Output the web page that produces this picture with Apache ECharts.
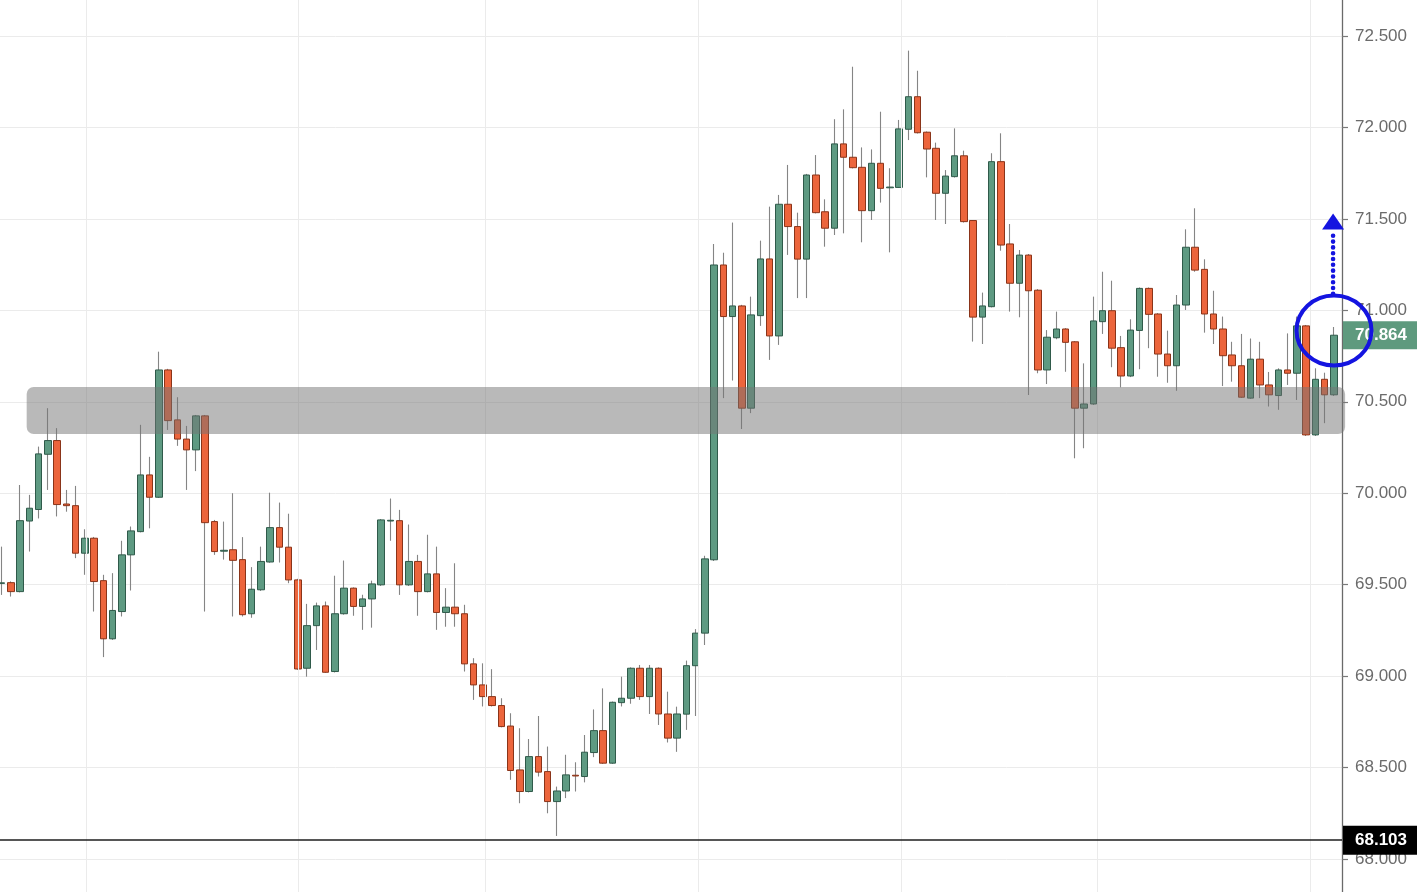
<!DOCTYPE html>
<html>
<head>
<meta charset="utf-8">
<script src="https://cdn.jsdelivr.net/npm/echarts@6/dist/echarts.min.js"></script>
<style>
html,body{margin:0;padding:0;background:#fff;}
#c{width:1417px;height:892px;}
</style>
</head>
<body>
<div id="c"></div>
<script>
// ---- data ----
const opens = [69.507,69.511,69.462,69.848,69.911,70.213,70.288,69.941,69.932,69.672,
69.754,69.522,69.204,69.353,69.663,69.790,70.100,69.978,70.674,70.401,
70.296,70.237,70.423,69.845,69.683,69.691,69.637,69.341,69.472,69.624,
69.812,69.705,69.526,69.043,69.276,69.384,69.025,69.341,69.481,69.381,
69.422,69.499,69.848,69.850,69.499,69.627,69.462,69.559,69.348,69.377,
69.341,69.067,68.952,68.888,68.839,68.727,68.487,68.369,68.560,68.478,
68.314,68.372,68.458,68.451,68.582,68.702,68.524,68.855,68.879,69.043,
68.888,69.043,68.793,68.661,68.792,69.057,69.235,69.636,71.248,70.966,
71.024,70.465,70.971,71.281,70.860,71.580,71.458,71.280,71.740,71.539,
71.449,71.910,71.837,71.782,71.545,71.804,71.670,71.672,71.990,72.168,
71.974,71.886,71.640,71.731,71.845,71.491,70.963,71.020,71.813,71.363,
71.148,71.302,71.110,70.674,70.850,70.898,70.828,70.465,70.488,70.938,
70.998,70.796,70.641,70.890,71.120,70.980,70.761,70.697,71.029,71.345,
71.224,70.980,70.898,70.756,70.697,70.520,70.733,70.592,70.534,70.674,
70.656,70.915,70.319,70.623,70.538];
const closes = [69.510,69.462,69.850,69.918,70.215,70.288,69.938,69.932,69.672,69.754,
69.517,69.204,69.359,69.663,69.794,70.100,69.978,70.674,70.397,70.296,
70.237,70.423,69.839,69.681,69.688,69.633,69.336,69.475,69.627,69.812,
69.705,69.526,69.039,69.276,69.384,69.021,69.341,69.481,69.381,69.422,
69.504,69.854,69.852,69.499,69.627,69.462,69.559,69.348,69.377,69.341,
69.067,68.952,68.888,68.839,68.724,68.484,68.369,68.560,68.475,68.314,
68.372,68.460,68.454,68.584,68.702,68.524,68.857,68.879,69.043,68.888,
69.043,68.793,68.661,68.793,69.057,69.235,69.641,71.248,70.966,71.024,
70.465,70.975,71.281,70.860,71.580,71.458,71.280,71.740,71.534,71.449,
71.910,71.837,71.780,71.545,71.804,71.667,71.674,71.992,72.168,71.971,
71.882,71.640,71.734,71.845,71.485,70.963,71.024,71.813,71.357,71.148,
71.302,71.107,70.674,70.853,70.898,70.825,70.465,70.488,70.942,70.998,
70.793,70.641,70.892,71.120,70.978,70.761,70.697,71.029,71.345,71.220,
70.980,70.898,70.752,70.697,70.525,70.733,70.592,70.538,70.674,70.656,
70.915,70.319,70.623,70.538,70.864];
const lows = [69.444,69.435,69.458,69.681,69.862,70.018,69.873,69.899,69.645,69.554,
69.353,69.104,69.198,69.326,69.468,69.786,69.808,69.974,70.346,70.259,
70.018,70.121,69.353,69.663,69.637,69.326,69.326,69.319,69.466,69.620,
69.621,69.508,69.034,68.997,69.143,69.018,69.020,69.336,69.330,69.253,
69.265,69.493,69.740,69.444,69.493,69.330,69.458,69.253,69.270,69.270,
69.025,68.870,68.834,68.834,68.720,68.433,68.305,68.364,68.451,68.250,
68.126,68.333,68.369,68.419,68.557,68.520,68.520,68.834,68.849,68.870,
68.793,68.733,68.637,68.586,68.706,68.782,69.170,69.630,70.520,70.616,
70.351,70.438,70.915,70.729,70.811,71.303,71.067,71.067,71.530,71.348,
71.412,71.421,71.776,71.372,71.494,71.589,71.317,71.669,71.931,71.967,
71.727,71.494,71.472,71.726,71.480,70.829,70.816,71.016,71.326,70.993,
70.962,70.537,70.656,70.597,70.842,70.664,70.191,70.246,70.483,70.871,
70.689,70.579,70.635,70.678,70.793,70.637,70.604,70.560,71.002,71.211,
70.878,70.816,70.586,70.610,70.521,70.516,70.520,70.474,70.456,70.592,
70.510,70.313,70.313,70.383,70.532];
const highs = [69.708,69.518,70.045,69.991,70.255,70.465,70.356,70.018,70.040,69.803,
69.761,69.554,69.563,69.740,69.818,70.374,70.199,70.774,70.680,70.525,
70.368,70.428,70.428,69.854,69.845,70.000,69.760,69.596,69.708,70.003,
69.949,69.888,69.532,69.395,69.402,69.408,69.549,69.632,69.485,69.445,
69.522,69.859,69.971,69.909,69.829,69.663,69.773,69.708,69.481,69.617,
69.390,69.098,69.070,69.038,68.879,68.797,68.715,68.656,68.782,68.615,
68.396,68.570,68.529,68.678,68.818,68.933,68.861,68.997,69.048,69.061,
69.061,69.048,68.915,68.833,69.085,69.257,69.658,71.363,71.315,71.480,
71.030,71.075,71.381,71.567,71.631,71.795,71.534,71.746,71.849,71.607,
72.045,72.099,72.332,71.891,71.880,72.086,71.777,72.041,72.420,72.310,
71.978,71.917,71.767,71.995,71.873,71.494,71.097,71.859,71.968,71.472,
71.330,71.308,71.116,70.892,70.993,70.903,70.832,70.710,71.075,71.211,
71.162,70.860,70.951,71.125,71.125,70.985,70.889,71.084,71.443,71.558,
71.279,71.107,70.966,70.828,70.871,70.846,70.828,70.663,70.683,70.874,
70.966,70.920,70.683,70.659,70.909];

const yTicksMin = 67.5, yTicksMax = 73.0, yTickStep = 0.5;
const timeGridIdx = [9.1, 32.06, 52.25, 75.24, 97.2, 118.4, 141.4];
const lastPrice = 70.864;
const levelLine = 68.103;
const zoneBand = [70.324, 70.581];
const zoneSpan = [2.7, 145.2];
const circleAt = [144, 70.89];
const arrowSpan = [71.09, 71.53];
const arrowIdx = 143.9;

// ---- build ----
const full = opens.map((o, i) => [i, o, closes[i], lows[i], highs[i]]);
const bodies = opens.map((o, i) => [i, o, closes[i], Math.min(o, closes[i]), Math.max(o, closes[i])]);

const chart = echarts.init(document.getElementById('c'), null, {renderer: 'canvas'});
const FONT = 'Liberation Sans, Arial, sans-serif';

const option = {
  animation: false,
  backgroundColor: '#ffffff',
  grid: {left: 0, right: 75, top: -55.45, bottom: -58.45, containLabel: false, outerBoundsMode: 'none'},
  xAxis: {
    type: 'value', min: -0.184, max: 144.865,
    axisLine: {show: false, onZero: false}, axisTick: {show: false}, axisLabel: {show: false}, splitLine: {show: false}
  },
  yAxis: {
    type: 'value', position: 'right', scale: true,
    min: yTicksMin, max: yTicksMax, interval: yTickStep,
    axisLine: {show: true, onZero: false, lineStyle: {color: '#6a6a6a', width: 1.3}},
    axisTick: {show: true, length: 6, lineStyle: {color: '#7a7a7a', width: 1.2}},
    axisLabel: {
      color: '#6b6b6b', fontSize: 17, fontFamily: FONT, margin: 13,
      formatter: v => v.toFixed(3)
    },
    splitLine: {show: true, lineStyle: {color: '#ebebeb', width: 1}}
  },
  series: [
    {
      type: 'scatter', data: [], z: 1, silent: true,
      markLine: {
        silent: true, symbol: ['none', 'none'], label: {show: false},
        lineStyle: {color: '#ebebeb', width: 1, type: 'solid'},
        data: timeGridIdx.map(v => ({xAxis: v}))
      }
    },
    {
      type: 'candlestick', name: 'wicks', z: 2, barWidth: 1, silent: true,
      itemStyle: {color: '#858585', color0: '#858585', borderColor: '#858585', borderColor0: '#858585', borderWidth: 1.1},
      data: full
    },
    {
      type: 'candlestick', name: 'bodies', z: 3, barWidth: 7, silent: true,
      itemStyle: {color: '#5e9a82', color0: '#ec653c', borderColor: '#2f5a4a', borderColor0: '#8a3419', borderWidth: 1},
      data: bodies,
      markLine: {
        silent: true, symbol: ['none', 'none'], precision: 3,
        data: [
          {
            yAxis: levelLine,
            lineStyle: {color: '#1e1e1e', width: 1.5, type: 'solid'},
            label: {
              show: true, position: 'end', distance: 1,
              formatter: p => p.value.toFixed(3),
              color: '#ffffff', fontWeight: 'bold', fontSize: 17, fontFamily: FONT,
              backgroundColor: '#000000', padding: [7, 12, 5, 12]
            }
          },
          {
            yAxis: lastPrice,
            lineStyle: {color: 'rgba(0,0,0,0)', width: 1, type: 'solid'},
            label: {
              show: true, position: 'end', distance: 1,
              formatter: p => p.value.toFixed(3),
              color: '#ffffff', fontWeight: 600, fontSize: 17, fontFamily: FONT,
              backgroundColor: '#5e9a7e', padding: [6, 12, 5, 12]
            }
          }
        ]
      }
    }
  ]
};
chart.setOption(option);

function px(x, y) { return chart.convertToPixel({gridIndex: 0}, [x, y]); }
const z0 = px(zoneSpan[0], zoneBand[1]);
const z1 = px(zoneSpan[1], zoneBand[0]);
const cc = px(circleAt[0], circleAt[1]);
const aBot = px(arrowIdx, arrowSpan[0]);
const aTop = px(arrowIdx, arrowSpan[1]);
const headH = 16, headW = 11;
const BLUE = '#1414e0';

chart.setOption({
  graphic: [
    {
      type: 'rect', z: 50, silent: true,
      shape: {x: z0[0], y: z0[1], width: z1[0] - z0[0], height: z1[1] - z0[1], r: 7},
      style: {fill: 'rgba(115,115,115,0.5)'}
    },
    {
      type: 'line', z: 60, silent: true,
      shape: {x1: aBot[0], y1: aBot[1], x2: aTop[0], y2: aTop[1] + headH + 3},
      style: {stroke: BLUE, lineWidth: 4.6, lineCap: 'round', lineDash: [0.01, 5.8]}
    },
    {
      type: 'polygon', z: 60, silent: true,
      shape: {points: [[aTop[0], aTop[1]], [aTop[0] - headW, aTop[1] + headH], [aTop[0] + headW, aTop[1] + headH]]},
      style: {fill: BLUE}
    },
    {
      type: 'ellipse', z: 60, silent: true,
      shape: {cx: cc[0], cy: cc[1], rx: 37.5, ry: 35},
      style: {fill: 'none', stroke: BLUE, lineWidth: 4}
    }
  ]
});
</script>
</body>
</html>
